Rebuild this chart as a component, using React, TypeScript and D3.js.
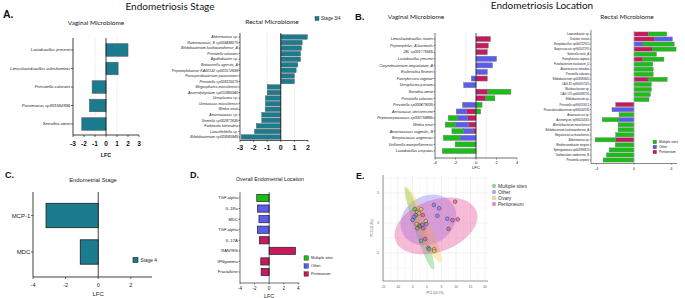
import React from "react";
import * as d3 from "d3";

const SANS = "'Liberation Sans', Arial, sans-serif";
const TITLE = "Lato, 'Open Sans', sans-serif";

// ---------- Panel A ----------
const aVagTaxa = [
  "Lactobacillus jensenii",
  "Limosilactobacillus colechominis",
  "Prevotella colorans",
  "Parvimonas sp001552895",
  "Sneathia amnii",
];
const aVagLFC = [2.0, 1.1, -1.26, -1.5, -2.2];
const aVagTicks = [-3, -2, -1, 0, 1, 2, 3];

const aRectTaxa = [
  "Akkermansia sp.",
  "Ruminococcus_E sp003438075",
  "Bifidobacterium kashiwanohense_A",
  "Prevotella colorans",
  "Agathobacter sp.",
  "Bottacerella agrestis_A",
  "Peptoniphilaceae KA00132 sp001572699",
  "Parasporobacterium paucivorans",
  "Prevotella sp003115075",
  "Megasphaera massiliensis",
  "Anaerobutyricum sp012965945",
  "Ureaplasma sp.",
  "Urinicoccus massiliensis",
  "Winkia neuii",
  "Anaerococcus sp.",
  "Gemella sp002871635",
  "Fodinicola luteorubra",
  "Lancefieldella sp.",
  "Bifidobacterium sp003585845",
];
const aRectLFC = [1.95, 1.57, 1.52, 1.45, 1.45, 1.25, 1.13, 1.0, 1.0, -1.0, -1.0, -1.13, -1.13, -1.15, -1.4, -1.4, -1.8, -1.93, -2.9];
const aRectTicks = [-3, -2, -1, 0, 1, 2];

// ---------- Panel B ----------
const locGroups = ["Multiple sites", "Other", "Peritoneum"];
const locColors = ["#17bf17", "#5b5bf2", "#c8185e"];

const bVagTaxa = [
  "Limosilactobacillus reuteri",
  "Peptoniphilus_A lacrimalis",
  "28L sp001775565",
  "Lactobacillus jensenii",
  "Corynebacterium amycolatum_A",
  "Escherichia flexneri",
  "Fannyhessea vaginae",
  "Ureaplasma parvum",
  "Sneathia amnii",
  "Prevotella colorans",
  "Prevotella sp000479005",
  "Aerococcus christensenii",
  "Peptostreptococcus sp000758865",
  "Winkia neuii",
  "Anaerococcus vaginalis_B",
  "Streptococcus anginosus",
  "Veillonella montpellierensis",
  "Lactobacillus crispatus",
];
const bVagMulti = [0, 0, 0, 0, 0, 0, 0, 0, 2.3, 0.92, 0.59, 0.46, -0.9, -1.0, -1.15, -1.64, -2.03, -3.28];
const bVagOther = [0, 0, 0, 2.0, 1.6, 1.1, -0.45, -1.2, 0, 0, -1.31, -0.98, -1.0, -1.3, -0.95, -1.54, 0, 0];
const bVagPerit = [1.4, 1.2, 1.1, 0, 0, 0, 1.1, 0, 1.1, 0.92, 0, -0.95, -0.8, -0.7, -0.25, 0, 0, 0];
const bVagTicks = [-4, -2, 0, 2, 4];

const bRectTaxa = [
  "Lawsonibacter sp.",
  "Dialister invisus",
  "Streptobacillus sp000722925",
  "Butyricicoccus sp900547195",
  "Sutterella secki_A",
  "Fannyhessea vaginae",
  "Fusobacterium nucleatum_D",
  "Anaerococcus tetradius",
  "Prevotella colorans",
  "Bifidobacterium sp003585845",
  "CAG-81 sp900317245",
  "Muribaculaceae sp.",
  "CAG-170 sp000436735",
  "Bifidobacterium sp.",
  "Prevotella sp900313015",
  "Phascolarctobacterium sp900544785",
  "Anaerococcus sp.",
  "Actinomyces sp900214565",
  "Alterileibacterium massiliense",
  "Bifidobacterium kashiwanohense_A",
  "Negativicoccus massiliensis",
  "Akkermansia sp.",
  "Mediterraneibacter torques",
  "Sphingomonas sp002996825",
  "Varibaculum cambriense_B",
  "Prevotella corporis",
];
const bRectMulti = [1.95, 0, 3.35, 2.55, 2.4, 2.3, 2.0, 2.05, 2.05, 2.05, 1.85, 1.85, 1.75, 1.6, 0, 0, -1.6, -1.8, -1.7, -1.7, -1.95, -2.2, -2.0, -2.65, -2.95, -3.3];
const bRectOther = [0, 1.9, 0.95, 0, 0, 0, 0, 0, 0, 0, 0, 0, 0, 0, 0, -2.35, 0, -1.6, 0, 0, 0, 0, 0, 0, 0, 0];
const bRectPerit = [1.55, 2.2, 0, 1.95, 0, 0.9, 0, 0, 0, 1.5, 0, 0, 0, 0, -1.95, 0, 0, 0, 0, 0, 0, -1.95, 0, 0, 0, 0];
const bRectTicks = [-4, 0, 4];

// ---------- Panel C ----------
const cCytokines = ["MCP-1", "MDC"];
const cLFC = [-3.2, -1.1];
const cTicks = [-4, -2, 0, 2];

// ---------- Panel D ----------
const dCytokines = ["TGF-alpha", "IL-1Ra", "MDC", "TGF-alpha", "IL-17A", "RANTES", "IFNgamma", "Fractalkine"];
const dGroup = ["Multiple sites", "Other", "Other", "Other", "Peritoneum", "Peritoneum", "Peritoneum", "Peritoneum"];
const dLFC = [-1.7, -1.6, -1.4, -1.6, -1.35, 3.6, -1.15, -1.1];
const dTicks = [-4, -2, 0, 2, 4];

// ---------- Panel E ----------
const eGroups = ["Multiple sites", "Other", "Ovary", "Peritoneum"];
const eColors = ["#5cc85c", "#8080ff", "#f0d050", "#e8559a"];
const ePC1 = [-4.2, -3.3, -3.8, -2.7, -4.4, -4.9, -3.5, -2.7, -2.4, -3.3, -2.0, -1.4, -0.4, -0.2, -1.6, -1.2, -2.0, -0.6, 0.5, 0.8, 2.5, 2.5, 2.4, 4.2, 3.6, 7.0, 9.7, 8.8, 10.6, 7.4];
const ePC2 = [2.3, 1.8, 1.3, 1.6, 1.0, 0.5, -0.2, -0.45, -0.6, -0.9, 2.3, 1.3, 0.3, -0.2, -0.3, -0.9, -3.0, -2.7, -4.2, -4.4, -4.4, -4.7, 3.0, 2.45, 1.2, 0.7, 3.55, 0.45, 0.6, -1.0];
const eGroup = ["Multiple sites", "Ovary", "Other", "Ovary", "Other", "Other", "Ovary", "Multiple sites", "Peritoneum", "Multiple sites", "Ovary", "Peritoneum", "Ovary", "Other", "Other", "Peritoneum", "Multiple sites", "Peritoneum", "Other", "Multiple sites", "Ovary", "Ovary", "Other", "Other", "Other", "Other", "Peritoneum", "Peritoneum", "Peritoneum", "Peritoneum"];
// confidence ellipses: centre, major half-axis, minor half-axis (PC units)
const eEllCx = [-2.5, 0.5, -1.4, 3.1];
const eEllCy = [-1.0, 0.5, -0.25, -0.5];
const eEllMajor = [[4.7, -6.8], [8.64, 2.42], [6.1, -6.3], [13.9, 2.45]];
const eEllMinor = [[1.63, 0.27], [4.13, -3.47], [2.0, 0.47], [3.06, -4.07]];
const eXTicks = [-15, -10, -5, 0, 5, 10, 15, 20];
const eYTicks = [-5, 0, 5];

function HBars(p: any) {
  const x = d3.scaleLinear().domain(p.domain).range(p.xRange);
  const idx = d3.range(p.cats.length);
  const y = d3.scalePoint<number>().domain(idx).range(p.centers);
  const rows = idx.map((i) => {
    const r: any = {};
    p.series.forEach((s: any) => (r[s.key] = s.values[i]));
    return r;
  });
  const layers = d3
    .stack<any>()
    .keys(p.series.map((s: any) => s.key))
    .offset(d3.stackOffsetDiverging)(rows);
  const [xl, xr] = p.xRange;
  const tl = p.tickLen ?? 2;
  return (
    <g>
      {(p.grid || []).map((g: number) => (
        <line key={"g" + g} x1={x(g)} x2={x(g)} y1={p.axisTop} y2={p.axisBottom} stroke="#c4c4c4" strokeWidth={0.5} strokeDasharray="1.2,1.2" />
      ))}
      {layers.map((L, li) =>
        L.map((d, i) =>
          d[0] === d[1] ? null : (
            <rect
              key={li + "-" + i}
              x={x(d[0])}
              width={x(d[1]) - x(d[0])}
              y={(y(i) as number) - p.barH / 2}
              height={p.barH}
              fill={p.series[li].color}
              stroke={p.stroke}
              strokeWidth={p.strokeW}
            />
          )
        )
      )}
      <line x1={x(0)} x2={x(0)} y1={p.axisTop} y2={p.axisBottom} stroke={p.zeroColor} strokeWidth={p.zeroW} />
      <line x1={xl} x2={xl} y1={p.axisTop} y2={p.axisBottom} stroke="#111" strokeWidth={p.axisW} />
      <line x1={xl} x2={xr} y1={p.axisBottom} y2={p.axisBottom} stroke="#111" strokeWidth={p.axisW} />
      {idx.map((i) => (
        <g key={"c" + i}>
          <line x1={xl - tl} x2={xl} y1={y(i)} y2={y(i)} stroke="#111" strokeWidth={p.axisW * 0.8} />
          <text
            x={xl - tl - 0.6}
            y={y(i)}
            dy="0.35em"
            textAnchor="end"
            fontSize={p.labelSize}
            fontStyle={p.italic ? "italic" : "normal"}
            fill="#222"
            fontFamily={SANS}
          >
            {p.cats[i]}
          </text>
        </g>
      ))}
      {p.ticks.map((t: number) => (
        <g key={"t" + t}>
          <line x1={x(t)} x2={x(t)} y1={p.axisBottom} y2={p.axisBottom + tl} stroke="#111" strokeWidth={p.axisW * 0.8} />
          <text x={x(t)} y={p.tickLabelY} textAnchor="middle" fontSize={p.tickSize} fontWeight={p.tickBold ? "bold" : "normal"} fill="#111" fontFamily={SANS}>
            {t}
          </text>
        </g>
      ))}
      {p.lfcY ? (
        <text x={p.lfcX ?? x(0)} y={p.lfcY} textAnchor="middle" fontSize={p.lfcSize} fontWeight={p.lfcBold ? "bold" : "normal"} fill="#111" fontFamily={SANS}>
          LFC
        </text>
      ) : null}
    </g>
  );
}

function PanelE() {
  const ex = d3.scaleLinear().domain([-15.1, 21]).range([383, 488]);
  const ey = d3.scaleLinear().domain([-9.7, 8]).range([281, 175]);
  const ts = d3.range(0, Math.PI * 2 + 0.01, Math.PI / 60);
  const line = d3.line<[number, number]>().x((d) => ex(d[0])).y((d) => ey(d[1])).curve(d3.curveLinearClosed);
  const minorX = d3.range(-12.5, 21, 5);
  const minorY = [-7.5, -2.5, 2.5, 7.5];
  const colorOf = (g: string) => eColors[eGroups.indexOf(g)];
  return (
    <g>
      {minorX.map((v) => (
        <line key={"mx" + v} x1={ex(v)} x2={ex(v)} y1={175} y2={281} stroke="#f1f1f1" strokeWidth={0.4} />
      ))}
      {minorY.map((v) => (
        <line key={"my" + v} x1={383} x2={488} y1={ey(v)} y2={ey(v)} stroke="#f1f1f1" strokeWidth={0.4} />
      ))}
      {eXTicks.map((v) => (
        <line key={"gx" + v} x1={ex(v)} x2={ex(v)} y1={175} y2={281} stroke="#e2e2e2" strokeWidth={0.5} />
      ))}
      {eYTicks.map((v) => (
        <line key={"gy" + v} x1={383} x2={488} y1={ey(v)} y2={ey(v)} stroke="#e2e2e2" strokeWidth={0.5} />
      ))}
      {eGroups.map((g, gi) => {
        const pts = ts.map(
          (t) =>
            [
              eEllCx[gi] + Math.cos(t) * eEllMajor[gi][0] + Math.sin(t) * eEllMinor[gi][0],
              eEllCy[gi] + Math.cos(t) * eEllMajor[gi][1] + Math.sin(t) * eEllMinor[gi][1],
            ] as [number, number]
        );
        return <path key={g} d={line(pts) as string} fill={eColors[gi]} fillOpacity={0.4} stroke="none" />;
      })}
      {ePC1.map((v, i) => (
        <circle key={"p" + i} cx={ex(v)} cy={ey(ePC2[i])} r={1.9} fill={colorOf(eGroup[i])} fillOpacity={0.7} stroke="#333" strokeWidth={0.45} />
      ))}
      <line x1={383} x2={383} y1={175} y2={281} stroke="#333" strokeWidth={0.5} />
      <line x1={383} x2={488} y1={281} y2={281} stroke="#333" strokeWidth={0.5} />
      {eXTicks.map((v) => (
        <text key={"tx" + v} x={ex(v)} y={288} textAnchor="middle" fontSize={3.2} fill="#555" fontFamily={SANS}>
          {v}
        </text>
      ))}
      {eYTicks.map((v) => (
        <text key={"ty" + v} x={379} y={ey(v)} dy="0.35em" textAnchor="end" fontSize={3.2} fill="#555" fontFamily={SANS}>
          {v}
        </text>
      ))}
      <text x={435} y={294} textAnchor="middle" fontSize={3} fill="#555" fontFamily={SANS}>
        PC1 (24.1%)
      </text>
      <text transform="translate(373,228) rotate(-90)" textAnchor="middle" fontSize={3} fill="#555" fontFamily={SANS}>
        PC2 (11.3%)
      </text>
      {eGroups.map((g, gi) => (
        <g key={"l" + g}>
          <circle cx={494} cy={186 + gi * 6} r={1.9} fill={eColors[gi]} fillOpacity={0.7} stroke="#999" strokeWidth={0.3} />
          <text x={498} y={186 + gi * 6} dy="0.35em" fontSize={5} fill="#333" fontFamily={SANS}>
            {g}
          </text>
        </g>
      ))}
    </g>
  );
}

export default function App() {
  const teal = "#1b7c8f";
  const dColor = (g: string) => locColors[locGroups.indexOf(g)];
  const bSeries = (m: number[], o: number[], pr: number[]) => [
    { key: "Peritoneum", color: locColors[2], values: pr },
    { key: "Other", color: locColors[1], values: o },
    { key: "Multiple sites", color: locColors[0], values: m },
  ];
  // panel D uses one series per bar, coloured by location
  const dx = d3.scaleLinear().domain([-4, 4]).range([240, 298.3]);
  const dy = d3.scalePoint<number>().domain(d3.range(dCytokines.length)).range([198, 272]);
  const cx = d3.scaleLinear().domain([-4, 3.3]).range([33, 152]);
  const cy = d3.scalePoint<number>().domain(d3.range(cCytokines.length)).range([215.5, 252]);

  return (
    <div style={{ position: "absolute", left: 0, top: 0 }}>
      <svg width={685} height={298} style={{ display: "block", background: "#fff" }}>
        {/* section titles */}
        <text x={170} y={10} textAnchor="middle" fontSize={10} fill="#111" fontFamily={TITLE}>
          Endometriosis Stage
        </text>
        <text x={542} y={9} textAnchor="middle" fontSize={10} fill="#111" fontFamily={TITLE}>
          Endometriosis Location
        </text>
        <text x={3} y={18} fontSize={10.5} fontWeight="bold" fill="#111" fontFamily={SANS}>A.</text>
        <text x={355} y={20} fontSize={9.5} fontWeight="bold" fill="#111" fontFamily={SANS}>B.</text>
        <text x={5} y={178} fontSize={9} fontWeight="bold" fill="#111" fontFamily={SANS}>C.</text>
        <text x={190} y={178} fontSize={9} fontWeight="bold" fill="#111" fontFamily={SANS}>D.</text>
        <text x={356} y={179} fontSize={9} fontWeight="bold" fill="#111" fontFamily={SANS}>E.</text>

        {/* panel titles */}
        <text x={96} y={25} textAnchor="middle" fontSize={6.5} fill="#222" fontFamily={TITLE}>Vaginal Microbiome</text>
        <text x={272} y={23.5} textAnchor="middle" fontSize={6.5} fill="#222" fontFamily={TITLE}>Rectal Microbiome</text>
        <text x={416} y={18.5} textAnchor="middle" fontSize={6.5} fill="#222" fontFamily={TITLE}>Vaginal Microbiome</text>
        <text x={627} y={18.5} textAnchor="middle" fontSize={6.5} fill="#222" fontFamily={TITLE}>Rectal Microbiome</text>
        <text x={93} y={182} textAnchor="middle" fontSize={5.8} fill="#222" fontFamily={SANS}>Endometrial Stage</text>
        <text x={270} y={181} textAnchor="middle" fontSize={5.3} fill="#222" fontFamily={SANS}>Overall Endometrial  Location</text>

        {/* A vaginal */}
        <HBars
          cats={aVagTaxa}
          series={[{ key: "Stage 3/4", color: teal, values: aVagLFC }]}
          domain={[-3, 3]}
          xRange={[73, 139]}
          centers={[50, 124]}
          axisTop={38}
          axisBottom={135}
          barH={12.5}
          ticks={aVagTicks}
          labelSize={4.2}
          italic
          tickSize={6.5}
          tickBold
          tickLabelY={146}
          lfcY={156.5}
          lfcX={106}
          lfcSize={5.5}
          lfcBold
          grid={[-1, 1]}
          zeroColor="#111"
          zeroW={0.8}
          axisW={0.8}
          stroke="#555"
          strokeW={0.6}
        />
        {/* A rectal */}
        <HBars
          cats={aRectTaxa}
          series={[{ key: "Stage 3/4", color: teal, values: aRectLFC }]}
          domain={[-3, 2]}
          xRange={[240, 308]}
          centers={[37, 137]}
          axisTop={33}
          axisBottom={140.5}
          barH={4.6}
          ticks={aRectTicks}
          labelSize={3.6}
          italic
          tickSize={7}
          tickBold
          tickLabelY={150}
          tickLen={1.5}
          grid={[-1, 1]}
          zeroColor="#111"
          zeroW={0.8}
          axisW={0.7}
          stroke="#555"
          strokeW={0.4}
        />
        <rect x={315} y={16.5} width={4} height={4} fill={teal} stroke="#333" strokeWidth={0.4} />
        <text x={321} y={18.5} dy="0.35em" fontSize={4.6} fill="#222" fontFamily={SANS}>Stage 3/4</text>

        {/* B vaginal */}
        <HBars
          cats={bVagTaxa}
          series={bSeries(bVagMulti, bVagOther, bVagPerit)}
          domain={[-4, 4]}
          xRange={[435, 517]}
          centers={[39, 151]}
          axisTop={33}
          axisBottom={158}
          barH={5}
          ticks={bVagTicks}
          labelSize={3.7}
          italic
          tickSize={4}
          tickLabelY={163.5}
          lfcY={168.8}
          lfcSize={4.3}
          tickLen={1.5}
          grid={[-1, 1]}
          zeroColor="#111"
          zeroW={0.7}
          axisW={0.6}
          stroke="#777"
          strokeW={0.5}
        />
        {/* B rectal */}
        <HBars
          cats={bRectTaxa}
          series={bSeries(bRectMulti, bRectOther, bRectPerit)}
          domain={[-4.6, 4.6]}
          xRange={[591, 677]}
          centers={[34, 160]}
          axisTop={30}
          axisBottom={163.5}
          barH={4.1}
          ticks={bRectTicks}
          labelSize={2.75}
          italic={false}
          tickSize={3.5}
          tickLabelY={169.5}
          tickLen={1.2}
          zeroColor="#bbb"
          zeroW={0.5}
          axisW={0.5}
          stroke="#777"
          strokeW={0.45}
        />
        {locGroups.map((g, i) => (
          <g key={"bl" + g}>
            <rect x={653} y={140.2 + i * 5} width={3.6} height={3.6} fill={locColors[i]} stroke="#555" strokeWidth={0.3} />
            <text x={659} y={142 + i * 5} dy="0.35em" fontSize={3.3} fill="#222" fontFamily={SANS}>{g}</text>
          </g>
        ))}

        {/* C */}
        <g>
          <line x1={cx(0)} x2={cx(0)} y1={192} y2={277} stroke="#111" strokeWidth={0.8} />
          {cCytokines.map((c, i) => (
            <g key={"c" + c}>
              <rect x={cx(Math.min(0, cLFC[i]))} width={Math.abs(cx(cLFC[i]) - cx(0))} y={(cy(i) as number) - 12.2} height={24.4} fill={teal} stroke="#1a1a1a" strokeWidth={0.8} />
              <line x1={31} x2={33} y1={cy(i)} y2={cy(i)} stroke="#111" strokeWidth={0.6} />
              <text x={30.3} y={cy(i)} dy="0.35em" textAnchor="end" fontSize={6} fill="#222" fontFamily={SANS}>{c}</text>
            </g>
          ))}
          <line x1={33} x2={33} y1={192} y2={277} stroke="#111" strokeWidth={0.8} />
          <line x1={33} x2={152} y1={277} y2={277} stroke="#111" strokeWidth={0.8} />
          {cTicks.map((t) => (
            <g key={"ct" + t}>
              <line x1={cx(t)} x2={cx(t)} y1={277} y2={279} stroke="#111" strokeWidth={0.6} />
              <text x={cx(t)} y={287} textAnchor="middle" fontSize={5.5} fill="#222" fontFamily={SANS}>{t}</text>
            </g>
          ))}
          <text x={cx(0)} y={295.5} textAnchor="middle" fontSize={6} fill="#222" fontFamily={SANS}>LFC</text>
          <rect x={133} y={257.5} width={5} height={5} fill={teal} stroke="#1a1a1a" strokeWidth={0.6} />
          <text x={140.5} y={260} dy="0.35em" fontSize={4.8} fill="#222" fontFamily={SANS}>Stage 4</text>
        </g>

        {/* D */}
        <g>
          {dCytokines.map((c, i) => (
            <g key={"d" + i}>
              <rect x={dx(Math.min(0, dLFC[i]))} width={Math.abs(dx(dLFC[i]) - dx(0))} y={(dy(i) as number) - 3.6} height={7.2} fill={dColor(dGroup[i])} stroke="#222" strokeWidth={0.7} />
              <line x1={238.5} x2={240} y1={dy(i)} y2={dy(i)} stroke="#111" strokeWidth={0.5} />
              <text x={237.8} y={dy(i)} dy="0.35em" textAnchor="end" fontSize={4.1} fill="#222" fontFamily={SANS}>{c}</text>
            </g>
          ))}
          <line x1={dx(0)} x2={dx(0)} y1={192} y2={283} stroke="#111" strokeWidth={0.6} />
          <line x1={240} x2={240} y1={192} y2={283} stroke="#111" strokeWidth={0.6} />
          <line x1={240} x2={299.5} y1={283} y2={283} stroke="#111" strokeWidth={0.6} />
          {dTicks.map((t) => (
            <g key={"dt" + t}>
              <line x1={dx(t)} x2={dx(t)} y1={283} y2={284.5} stroke="#111" strokeWidth={0.5} />
              <text x={dx(t)} y={289.5} textAnchor="middle" fontSize={4.6} fill="#222" fontFamily={SANS}>{t}</text>
            </g>
          ))}
          <text x={dx(0)} y={297.5} textAnchor="middle" fontSize={5.5} fill="#222" fontFamily={SANS}>LFC</text>
          {locGroups.map((g, i) => (
            <g key={"dl" + g}>
              <rect x={304} y={255.8 + i * 8} width={4.4} height={4.4} fill={locColors[i]} stroke="#222" strokeWidth={0.4} />
              <text x={311} y={258 + i * 8} dy="0.35em" fontSize={3.8} fill="#222" fontFamily={SANS}>{g}</text>
            </g>
          ))}
        </g>

        <PanelE />
      </svg>
    </div>
  );
}
